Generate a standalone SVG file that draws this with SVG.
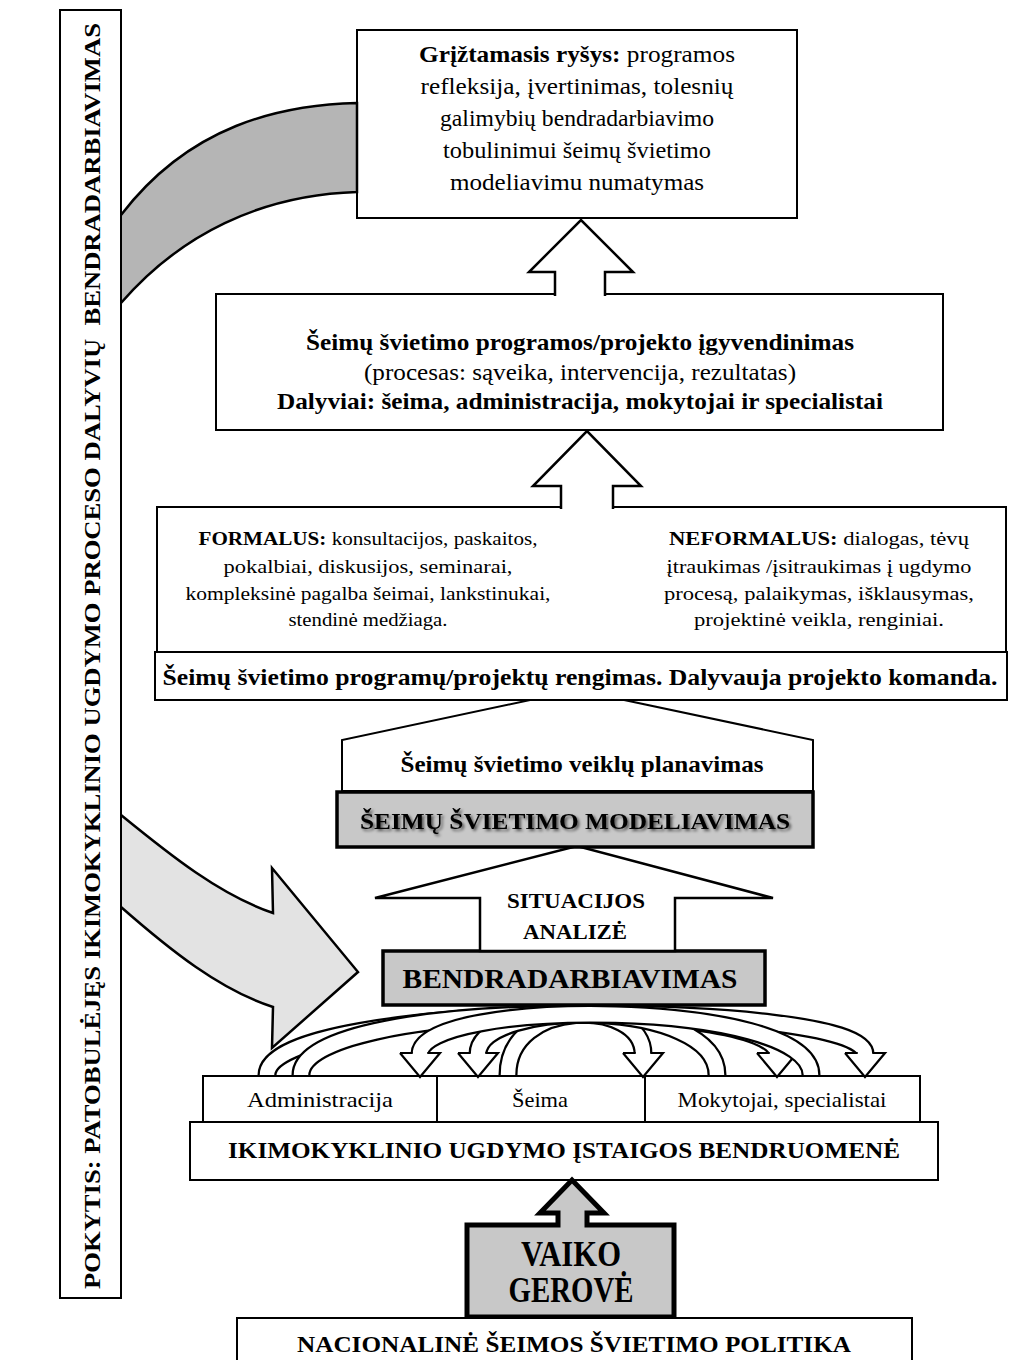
<svg xmlns="http://www.w3.org/2000/svg" width="1011" height="1360" viewBox="0 0 1011 1360">
<defs>
<style>
.box{fill:#fff;stroke:#000;stroke-width:2}
.grey{fill:#c8c8c8;stroke:#000;stroke-width:3.5}
.t{font-family:"Liberation Serif","Times New Roman",serif;fill:#000;text-anchor:middle}
.b{font-weight:bold}
.bo{fill:none;stroke:#000;stroke-width:19}
.bi{fill:none;stroke:#fff;stroke-width:14.5}
.hd{fill:#fff;stroke:#000;stroke-width:2.2;stroke-linejoin:miter}
.blk{fill:#fff;stroke:#000;stroke-width:2.5;stroke-linejoin:miter}
</style>
<filter id="sh" x="-5%" y="-30%" width="110%" height="160%">
<feGaussianBlur in="SourceAlpha" stdDeviation="1.6"/>
<feOffset dx="1.5" dy="2" result="o"/>
<feComponentTransfer><feFuncA type="linear" slope="0.6"/></feComponentTransfer>
<feMerge><feMergeNode/><feMergeNode in="SourceGraphic"/></feMerge>
</filter>
</defs>
<rect width="1011" height="1360" fill="#fff"/>

<g id="n-feedback">
<rect class="box" x="357" y="30" width="440" height="188"/>
<text class="t" font-size="23" x="577" y="62" textLength="316" lengthAdjust="spacingAndGlyphs"><tspan class="b">Grįžtamasis ryšys:</tspan> programos</text>
<text class="t" font-size="23" x="577" y="94" textLength="313" lengthAdjust="spacingAndGlyphs">refleksija, įvertinimas, tolesnių</text>
<text class="t" font-size="23" x="577" y="126" textLength="274" lengthAdjust="spacingAndGlyphs">galimybių bendradarbiavimo</text>
<text class="t" font-size="23" x="577" y="158" textLength="268" lengthAdjust="spacingAndGlyphs">tobulinimui šeimų švietimo</text>
<text class="t" font-size="23" x="577" y="190" textLength="254" lengthAdjust="spacingAndGlyphs">modeliavimu numatymas</text>
</g>

<g id="n-implementation">
<rect class="box" x="216" y="294" width="727" height="136"/>
<text class="t b" font-size="23" x="580" y="350" textLength="548" lengthAdjust="spacingAndGlyphs">Šeimų švietimo programos/projekto įgyvendinimas</text>
<text class="t" font-size="23" x="580" y="380" textLength="432" lengthAdjust="spacingAndGlyphs">(procesas: sąveika, intervencija, rezultatas)</text>
<text class="t b" font-size="23" x="580" y="409" textLength="606" lengthAdjust="spacingAndGlyphs">Dalyviai: šeima, administracija, mokytojai ir specialistai</text>
</g>

<g id="n-planning">
<polygon class="box" points="342,791 342,740 577,690 813,740 813,791"/>
<text class="t b" font-size="23" x="582" y="772" textLength="363" lengthAdjust="spacingAndGlyphs">Šeimų švietimo veiklų planavimas</text>
</g>

<g id="n-forms">
<rect class="box" x="157" y="507" width="849" height="145"/>
<text class="t" font-size="19.5" x="368" y="545" textLength="339" lengthAdjust="spacingAndGlyphs"><tspan class="b">FORMALUS:</tspan> konsultacijos, paskaitos,</text>
<text class="t" font-size="19.5" x="368" y="573" textLength="289" lengthAdjust="spacingAndGlyphs">pokalbiai, diskusijos, seminarai,</text>
<text class="t" font-size="19.5" x="368" y="600" textLength="365" lengthAdjust="spacingAndGlyphs">kompleksinė pagalba šeimai, lankstinukai,</text>
<text class="t" font-size="19.5" x="368" y="626" textLength="159" lengthAdjust="spacingAndGlyphs">stendinė medžiaga.</text>
<text class="t" font-size="19.5" x="819" y="545" textLength="300" lengthAdjust="spacingAndGlyphs"><tspan class="b">NEFORMALUS:</tspan> dialogas, tėvų</text>
<text class="t" font-size="19.5" x="819" y="573" textLength="305" lengthAdjust="spacingAndGlyphs">įtraukimas /įsitraukimas į ugdymo</text>
<text class="t" font-size="19.5" x="819" y="600" textLength="310" lengthAdjust="spacingAndGlyphs">procesą, palaikymas, išklausymas,</text>
<text class="t" font-size="19.5" x="819" y="626" textLength="250" lengthAdjust="spacingAndGlyphs">projektinė veikla, renginiai.</text>
</g>

<g id="n-preparation">
<rect class="box" x="155" y="652" width="852" height="48"/>
<text class="t b" font-size="23" x="580" y="685" textLength="835" lengthAdjust="spacingAndGlyphs">Šeimų švietimo programų/projektų rengimas. Dalyvauja projekto komanda.</text>
</g>

<g id="n-cooperation">
<rect class="grey" x="383" y="951" width="382" height="54"/>
<text class="t b" font-size="26.5" x="570" y="988" textLength="335" lengthAdjust="spacingAndGlyphs">BENDRADARBIAVIMAS</text>
</g>

<g id="n-situation">
<polygon class="blk" points="480,951 480,898 375,898 577,846 773,898 675,898 675,951"/>
<text class="t b" font-size="21" x="576" y="908" textLength="138" lengthAdjust="spacingAndGlyphs">SITUACIJOS</text>
<text class="t b" font-size="21" x="575" y="939" textLength="104" lengthAdjust="spacingAndGlyphs">ANALIZĖ</text>
</g>

<g id="n-modelling">
<rect class="grey" x="337" y="792" width="476" height="55"/>
<text class="t b" font-size="23" x="575" y="829" textLength="430" lengthAdjust="spacingAndGlyphs" filter="url(#sh)">ŠEIMŲ ŠVIETIMO MODELIAVIMAS</text>
</g>

<g id="n-admin">
<rect class="box" x="203" y="1076" width="234" height="46"/>
<text class="t" font-size="21.5" x="320" y="1107" textLength="146" lengthAdjust="spacingAndGlyphs">Administracija</text>
</g>
<g id="n-family">
<rect class="box" x="437" y="1076" width="208" height="46"/>
<text class="t" font-size="21" x="540" y="1107" textLength="56" lengthAdjust="spacingAndGlyphs">Šeima</text>
</g>
<g id="n-teachers">
<rect class="box" x="645" y="1076" width="275" height="46"/>
<text class="t" font-size="21.5" x="782" y="1107" textLength="209" lengthAdjust="spacingAndGlyphs">Mokytojai, specialistai</text>
</g>

<g id="n-community">
<rect class="box" x="190" y="1122" width="748" height="58"/>
<text class="t b" font-size="22.5" x="564" y="1158" textLength="672" lengthAdjust="spacingAndGlyphs">IKIMOKYKLINIO UGDYMO ĮSTAIGOS BENDRUOMENĖ</text>
</g>

<g id="n-child">
<path d="M467,1225 L558,1225 L558,1213 L540,1213 L572,1180 L604,1213 L587,1213 L587,1225 L674,1225 L674,1317 L467,1317 Z" fill="#c8c8c8" stroke="#000" stroke-width="5" stroke-linejoin="miter"/>
<text class="t b" font-size="35" x="571" y="1266" textLength="100" lengthAdjust="spacingAndGlyphs">VAIKO</text>
<text class="t b" font-size="35" x="571" y="1302" textLength="125" lengthAdjust="spacingAndGlyphs">GEROVĖ</text>
</g>

<g id="n-policy">
<rect class="box" x="237" y="1318" width="675" height="50"/>
<text class="t b" font-size="22.5" x="574" y="1352" textLength="554" lengthAdjust="spacingAndGlyphs">NACIONALINĖ ŠEIMOS ŠVIETIMO POLITIKA</text>
</g>

<g id="connectors">
<path d="M357,103 C280,105 190,125 121,215 L100,250 L100,330 L121,303 C180,235 260,195 357,192 Z" fill="#b5b5b5" stroke="#000" stroke-width="2.5"/>
<path d="M100,780 L121,815 C170,855 220,895 273,913 L272,868 L358,972 L272,1048 L273,1007 C220,990 170,950 121,907 L100,880 Z" fill="#e3e3e3" stroke="#000" stroke-width="2.5" stroke-linejoin="miter"/>
<path class="blk" d="M555,296 L555,272 L529,272 L581,220 L633,272 L605,272 L605,296"/>
<path class="blk" d="M561,509 L561,486 L533,486 L587,431 L641,486 L613,486 L613,509"/>

<g id="c-a1">
<path class="bo" d="M267,1075 C267,998 865,998 865,1054"/>
<path class="bi" d="M267,1075 C267,998 865,998 865,1054"/>
<path class="hd" d="M845,1053 L865,1077 L885,1053 L872.25,1053 M857.75,1053 L845,1053"/>
</g>
<g id="c-a2">
<path class="bo" d="M301,1075 C301,998 777,998 777,1054"/>
<path class="bi" d="M301,1075 C301,998 777,998 777,1054"/>
<path class="hd" d="M757,1053 L777,1077 L797,1053 L784.25,1053 M769.75,1053 L757,1053"/>
</g>
<g id="c-a3">
<path class="bo" d="M508,1075 C508,998 643,998 643,1054"/>
<path class="bi" d="M508,1075 C508,998 643,998 643,1054"/>
<path class="hd" d="M623,1053 L643,1077 L663,1053 L650.25,1053 M635.75,1053 L623,1053"/>
</g>
<g id="c-a4">
<path class="bo" d="M717,1075 C717,998 478,998 478,1054"/>
<path class="bi" d="M717,1075 C717,998 478,998 478,1054"/>
<path class="hd" d="M458,1053 L478,1077 L498,1053 L485.25,1053 M470.75,1053 L458,1053"/>
</g>
<g id="c-a5">
<path class="bo" d="M811,1075 C811,998 420,998 420,1054"/>
<path class="bi" d="M811,1075 C811,998 420,998 420,1054"/>
<path class="hd" d="M400,1053 L420,1077 L440,1053 L427.25,1053 M412.75,1053 L400,1053"/>
</g>
</g>

<g id="n-change">
<rect class="box" x="60" y="10" width="61" height="1288"/>
<text class="t b" font-size="23.5" transform="translate(100,656) rotate(-90)" x="0" y="0" textLength="1266" lengthAdjust="spacingAndGlyphs">POKYTIS: PATOBULĖJĘS IKIMOKYKLINIO UGDYMO PROCESO DALYVIŲ&#160; BENDRADARBIAVIMAS</text>
</g>
</svg>
